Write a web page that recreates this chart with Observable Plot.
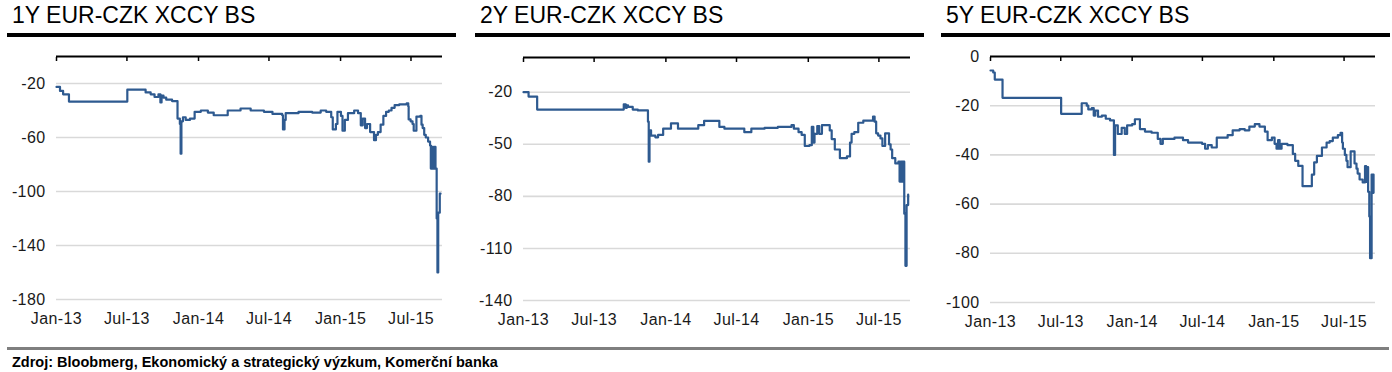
<!DOCTYPE html>
<html><head><meta charset="utf-8">
<script src="https://cdn.jsdelivr.net/npm/d3@7"></script>
<script src="https://cdn.jsdelivr.net/npm/@observablehq/plot@0.6"></script>
<style>
html,body{margin:0;padding:0;background:#fff}
body{font-family:"Liberation Sans",Arial,Helvetica,sans-serif;width:1392px;height:372px;position:relative;overflow:hidden}
.panel{position:absolute;top:0;width:449px;height:345px}
.title{position:absolute;left:5px;top:4px;font-size:23px;line-height:22px;color:#000;white-space:nowrap}
.rule{position:absolute;left:0;top:33px;height:4px;width:449px;background:#000}
.chart{position:absolute;left:0;top:40px}
.frule{position:absolute;left:7px;width:1382px;top:347px;height:3px;background:#7f7f7f}
.footer{position:absolute;left:12px;top:355px;font-size:14.5px;line-height:14px;font-weight:bold;color:#000;white-space:nowrap}
svg text{letter-spacing:0.4px}
</style>
</head><body>
<div class="panel" id="p1" style="left:7px"><div class="title"></div><div class="rule"></div><div class="chart"></div></div>
<div class="panel" id="p2" style="left:475px"><div class="title"></div><div class="rule"></div><div class="chart"></div></div>
<div class="panel" id="p3" style="left:941px"><div class="title"></div><div class="rule"></div><div class="chart"></div></div>
<div class="frule"></div>
<div class="footer" id="footer"></div>
<script>
const titles = ["1Y EUR-CZK XCCY BS", "2Y EUR-CZK XCCY BS", "5Y EUR-CZK XCCY BS"];
const footerText = "Zdroj: Bloobmerg, Ekonomický a strategický výzkum, Komerční banka";
const xTickDates = ["2013-01-01","2013-07-01","2014-01-01","2014-07-01","2015-01-01","2015-07-01"];
const xDomain = ["2013-01-01","2015-09-20"];

const yTicks1 = [-20,-60,-100,-140,-180];
const yTicks2 = [-20,-50,-80,-110,-140];
const yTicks3 = [0,-20,-40,-60,-80,-100];
const yMin = [-180,-140,-100];

const dates1 = ["2013-01-01","2013-01-10","2013-01-18","2013-02-02","2013-07-02","2013-08-18","2013-08-31","2013-09-10","2013-09-20","2013-09-25","2013-09-28","2013-10-03","2013-10-10","2013-10-25","2013-11-08","2013-11-14","2013-11-16","2013-11-18","2013-11-22","2013-11-29","2013-12-10","2013-12-22","2014-01-07","2014-01-25","2014-02-09","2014-03-17","2014-04-19","2014-05-15","2014-06-18","2014-07-10","2014-08-04","2014-08-06","2014-08-10","2014-08-13","2014-09-15","2014-10-20","2014-11-11","2014-11-25","2014-12-08","2014-12-12","2014-12-20","2014-12-24","2015-01-02","2015-01-06","2015-01-12","2015-01-20","2015-02-05","2015-02-15","2015-02-22","2015-02-27","2015-03-05","2015-03-10","2015-03-18","2015-03-28","2015-04-02","2015-04-07","2015-04-14","2015-04-21","2015-04-28","2015-05-05","2015-05-12","2015-05-20","2015-06-01","2015-06-20","2015-06-24","2015-06-25","2015-06-30","2015-07-05","2015-07-08","2015-07-15","2015-07-25","2015-07-28","2015-07-31","2015-08-04","2015-08-08","2015-08-14","2015-08-19","2015-08-21","2015-08-24","2015-08-27","2015-08-30","2015-09-02","2015-09-05","2015-09-07","2015-09-09","2015-09-13","2015-09-15"];
const values1 = [-22.5,-25.5,-28,-33.4,-24.6,-26.6,-28,-30,-28,-34,-29,-30.5,-32,-33,-46,-50,-72,-48,-45,-47,-46,-41,-40,-41.5,-43.5,-40,-38.5,-40,-41,-42.5,-43.5,-54,-47,-42,-41,-41.5,-40,-41,-45,-54,-50,-41,-44,-55,-47,-42,-40,-42,-51,-46,-53,-50,-56,-62,-58,-56,-50.5,-44,-41,-40,-38,-36,-35.4,-34.7,-37,-46.6,-48,-50,-55,-44.5,-44,-50.5,-53,-58,-60,-63,-66,-83,-67,-83,-67,-83,-120,-160,-115.7,-101.6,-101.6];

const dates2 = ["2013-01-01","2013-01-14","2013-02-05","2013-09-15","2013-09-20","2013-09-23","2013-09-26","2013-10-08","2013-10-21","2013-11-16","2013-11-18","2013-11-20","2013-11-24","2013-12-05","2013-12-12","2013-12-25","2014-01-14","2014-02-01","2014-03-25","2014-04-09","2014-05-18","2014-05-31","2014-07-21","2014-08-08","2014-09-11","2014-10-15","2014-11-19","2014-11-25","2014-12-07","2014-12-15","2014-12-23","2015-01-04","2015-01-10","2015-01-14","2015-01-17","2015-01-24","2015-01-29","2015-02-05","2015-02-25","2015-03-02","2015-03-10","2015-03-23","2015-04-10","2015-04-18","2015-04-22","2015-04-29","2015-05-09","2015-05-22","2015-06-16","2015-06-20","2015-06-24","2015-06-29","2015-07-05","2015-07-10","2015-07-17","2015-07-27","2015-07-31","2015-08-04","2015-08-12","2015-08-20","2015-08-23","2015-08-26","2015-08-29","2015-08-31","2015-09-04","2015-09-07","2015-09-10","2015-09-14"];
const values2 = [-20,-22.5,-30,-27,-29,-27.5,-28.5,-30,-30.5,-37,-60,-42,-45,-46,-44.6,-41,-38,-41,-39,-36.5,-40,-41,-43,-41,-40.5,-40,-39,-41,-43,-44.6,-51,-50.5,-40,-49,-44,-39.5,-44,-39,-42,-47,-53,-58,-57,-49,-44,-43,-37.6,-36.4,-34,-37,-43.7,-45,-46.6,-51,-43.7,-50,-53,-58,-61,-60,-71.5,-60,-71.5,-60,-90,-120,-85,-79];

const dates3 = ["2013-01-01","2013-01-08","2013-01-12","2013-02-01","2013-07-02","2013-08-24","2013-09-06","2013-09-10","2013-09-19","2013-09-24","2013-09-28","2013-10-05","2013-10-15","2013-10-25","2013-11-05","2013-11-15","2013-11-18","2013-11-25","2013-12-05","2013-12-13","2013-12-19","2014-01-01","2014-01-08","2014-01-21","2014-02-03","2014-02-20","2014-03-08","2014-03-15","2014-03-21","2014-04-20","2014-05-12","2014-05-25","2014-06-30","2014-07-08","2014-07-15","2014-07-25","2014-08-07","2014-09-04","2014-09-17","2014-10-05","2014-10-18","2014-10-30","2014-11-13","2014-11-25","2014-12-09","2014-12-16","2014-12-27","2015-01-03","2015-01-08","2015-01-12","2015-01-16","2015-01-21","2015-02-05","2015-02-19","2015-02-25","2015-03-05","2015-03-16","2015-04-09","2015-04-15","2015-04-22","2015-05-05","2015-05-17","2015-05-25","2015-06-02","2015-06-15","2015-06-22","2015-06-26","2015-06-28","2015-07-03","2015-07-07","2015-07-10","2015-07-18","2015-07-28","2015-08-02","2015-08-05","2015-08-10","2015-08-18","2015-08-24","2015-08-27","2015-08-29","2015-09-01","2015-09-04","2015-09-06","2015-09-10","2015-09-13","2015-09-15"];
const values3 = [-5.7,-6.5,-9.4,-16.8,-23.3,-19,-20,-21.5,-21,-24,-22,-24.5,-24,-25.3,-26,-40,-28,-31.5,-29,-31.5,-28,-27.5,-25.5,-29.5,-30.5,-31,-33.5,-35.5,-33.5,-33,-34,-35,-35.5,-37.5,-36,-37,-33,-32,-30,-29.5,-30,-28.5,-27.5,-28.5,-30.5,-34,-33,-35.5,-37.5,-34,-37.5,-35.5,-36,-39.6,-42.4,-44.5,-52.7,-48,-43,-40.4,-37,-35,-34.4,-33,-32,-31,-35,-37.5,-40,-42.4,-45,-38.6,-43.5,-45.6,-47.6,-50,-51.2,-44.6,-51,-45,-55,-65,-82,-48,-55.4,-48];

const FONT = '"Liberation Sans", Arial, Helvetica, sans-serif';
const LINE = "#2e5a90";

function makeChart(dates, values, min, ticks, m) {
  const data = dates.map((d, i) => ({date: new Date(d), value: values[i]}));
  const xt = xTickDates.map(d => new Date(d));
  const grid = ticks.filter(t => t !== 0);
  return Plot.plot({
    width: 449,
    height: 300,
    marginTop: m.top, marginBottom: m.bottom, marginLeft: m.left, marginRight: m.right,
    style: {fontFamily: FONT, fontSize: "16px", color: "#1a1a1a", background: "transparent", overflow: "visible"},
    x: {type: "utc", domain: xDomain.map(d => new Date(d))},
    y: {domain: [min, 0]},
    marks: [
      Plot.ruleY(grid, {stroke: "#d9d9d9", strokeWidth: 1.6}),
      Plot.ruleY([0], {stroke: "#000", strokeWidth: 2}),
      Plot.axisX({anchor: "top", ticks: xt, tickSize: -4, fill: "none", label: null, stroke: "#000", strokeWidth: 1.5}),
      Plot.axisX({anchor: "bottom", ticks: xt, tickSize: 0, tickPadding: 13, label: null, tickFormat: d3.utcFormat("%b-%y")}),
      Plot.axisY({ticks: ticks, tickSize: 0, tickPadding: 11, label: null, tickFormat: d => String(d).replace("\u2212", "-")}),
      Plot.line(data, {x: "date", y: "value", curve: "step-after", stroke: LINE, strokeWidth: 2.2})
    ]
  });
}

const panels = [
  {id: "p1", dates: dates1, values: values1, ticks: yTicks1, m: {top: 16, bottom: 41, left: 49, right: 14}},
  {id: "p2", dates: dates2, values: values2, ticks: yTicks2, m: {top: 17, bottom: 40, left: 48, right: 14}},
  {id: "p3", dates: dates3, values: values3, ticks: yTicks3, m: {top: 16, bottom: 38, left: 49, right: 15}}
];
panels.forEach((p, i) => {
  const el = document.getElementById(p.id);
  el.querySelector(".title").textContent = titles[i];
  el.querySelector(".chart").appendChild(makeChart(p.dates, p.values, yMin[i], p.ticks, p.m));
});
document.getElementById("footer").textContent = footerText;
</script>
</body></html>
